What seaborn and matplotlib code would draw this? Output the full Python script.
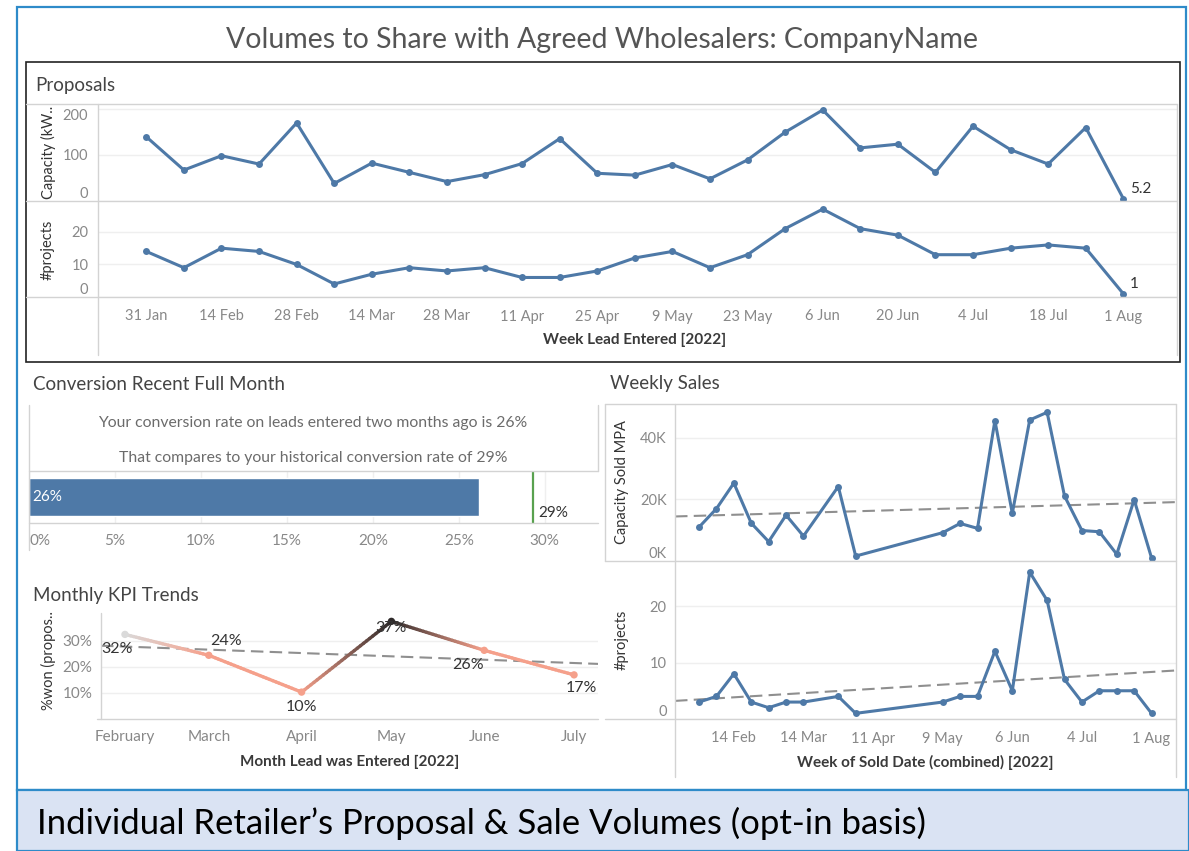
import matplotlib
matplotlib.use('Agg')
import matplotlib.pyplot as plt
import matplotlib.dates as mdates
from matplotlib.lines import Line2D
from matplotlib.patches import Rectangle
from matplotlib.collections import LineCollection
from matplotlib.colors import LinearSegmentedColormap, Normalize
import seaborn as sns
import numpy as np
import pandas as pd

W, H = 1189, 851

# ---- proposals (week lead entered) ----
proposal_weeks = ['2022-01-31', '2022-02-07', '2022-02-14', '2022-02-21', '2022-02-28', '2022-03-07',
                  '2022-03-14', '2022-03-21', '2022-03-28', '2022-04-04', '2022-04-11', '2022-04-18',
                  '2022-04-25', '2022-05-02', '2022-05-09', '2022-05-16', '2022-05-23', '2022-05-30',
                  '2022-06-06', '2022-06-13', '2022-06-20', '2022-06-27', '2022-07-04', '2022-07-11',
                  '2022-07-18', '2022-07-25', '2022-08-01']
proposal_capacity = [139, 67, 98, 80, 169, 38, 82, 62, 42, 57, 81, 135, 60, 56, 79, 48, 89, 149,
                     197, 115, 123, 62, 162, 111, 80, 159, 5.2]
proposal_projects = [14, 9, 15, 14, 10, 4, 7, 9, 8, 9, 6, 6, 8, 12, 14, 9, 13, 21, 27, 21, 19, 13,
                     13, 15, 16, 15, 1]

# ---- conversion ----
recent_conversion = 26.15
historical_conversion = 29.3
conversion_ticks = [0, 5, 10, 15, 20, 25, 30]

# ---- monthly KPI ----
kpi_months = ['2022-02-01', '2022-03-01', '2022-04-01', '2022-05-01', '2022-06-01', '2022-07-01']
kpi_won_pct = [32.4, 24.4, 10.3, 37.4, 26.3, 16.9]
kpi_shade = [0, 1, 1, 2, 1, 1]

# ---- weekly sales ----
sales_weeks = ['2022-01-31', '2022-02-07', '2022-02-14', '2022-02-21', '2022-02-28', '2022-03-07',
               '2022-03-14', '2022-03-28', '2022-04-04', '2022-05-09', '2022-05-16', '2022-05-23',
               '2022-05-30', '2022-06-06', '2022-06-13', '2022-06-20', '2022-06-27', '2022-07-04',
               '2022-07-11', '2022-07-18', '2022-07-25', '2022-08-01']
sales_capacity = [11000, 17000, 25300, 12300, 6300, 14900, 8100, 24200, 1600, 9200, 12200, 10600,
                  45600, 15500, 45800, 48300, 21100, 9900, 9500, 2200, 19900, 1000]
sales_projects = [3, 4, 8, 3, 2, 3, 3, 4, 1, 3, 4, 4, 12, 5, 26, 21, 7, 3, 5, 5, 5, 1]
sales_tick_weeks = ['2022-02-14', '2022-03-14', '2022-04-11', '2022-05-09', '2022-06-06',
                    '2022-07-04', '2022-08-01']

BLUE = '#4e79a7'
TEXT = '#333333'
TICK = '#888888'
GRID = '#efefef'
DIVIDER = '#d3d3d3'
FRAME_BLUE = '#2e8bc9'
TREND = '#8f8f8f'

sns.set_style('white')
plt.rcParams['font.family'] = ['Lato', 'DejaVu Sans']


def px_axes(fig, x0, y0, x1, y1):
    return fig.add_axes([x0 / W, 1 - y1 / H, (x1 - x0) / W, (y1 - y0) / H])


def px_line(fig, xs, ys, color=DIVIDER, lw=1.0):
    fig.add_artist(Line2D([x / W for x in xs], [1 - y / H for y in ys],
                          transform=fig.transFigure, color=color, lw=lw))


def px_rect(fig, x0, y0, x1, y1, **kw):
    fig.add_artist(Rectangle((x0 / W, 1 - y1 / H), (x1 - x0) / W, (y1 - y0) / H,
                             transform=fig.transFigure, **kw))


def px_text(fig, x, y, s, **kw):
    kw.setdefault('ha', 'center')
    kw.setdefault('va', 'center')
    fig.text(x / W, 1 - y / H, s, **kw)


def tableau_axes(ax, ypad=5):
    for s in ax.spines.values():
        s.set_visible(False)
    ax.set_xlabel('')
    ax.set_ylabel('')
    ax.tick_params(axis='both', which='both', labelcolor=TICK, labelsize=10.5, length=0)
    ax.tick_params(axis='y', pad=ypad)
    ax.set_axisbelow(True)


def y_edge_align(ax):
    ticks = ax.yaxis.get_major_ticks()
    ticks[0].label1.set_va('bottom')


def week_minor(ax, xlim):
    ax.xaxis.set_minor_locator(mdates.WeekdayLocator(byweekday=mdates.MO))
    ax.tick_params(axis='x', which='minor', length=4, color='#d6d6d6', direction='out')
    ax.set_xlim(xlim)


def trend_line(ax, dates, values, xlim):
    x = mdates.date2num(dates)
    k, b = np.polyfit(x, values, 1)
    xe = mdates.date2num(pd.to_datetime(list(xlim)))
    ax.plot(xe, k * xe + b, color=TREND, lw=1.5, ls=(0, (6, 3)), zorder=2)


def proposals_panel(fig):
    weeks = pd.to_datetime(proposal_weeks)
    xlim = (pd.Timestamp('2022-01-22'), pd.Timestamp('2022-08-11'))

    px_rect(fig, 26, 62, 1180, 362, fill=False, edgecolor='#222222', lw=1.2)
    px_text(fig, 35, 85, 'Proposals', ha='left', fontsize=13.5, color='#444444')

    ax1 = px_axes(fig, 98, 104, 1177, 201)
    ax2 = px_axes(fig, 98, 201, 1177, 297)
    sns.lineplot(x=weeks, y=proposal_capacity, ax=ax1, color=BLUE, lw=2.2, marker='o',
                 markersize=5, markeredgewidth=0)
    sns.lineplot(x=weeks, y=proposal_projects, ax=ax2, color=BLUE, lw=2.2, marker='o',
                 markersize=5, markeredgewidth=0)

    for ax in (ax1, ax2):
        tableau_axes(ax, ypad=7)
        ax.yaxis.grid(True, color=GRID, lw=1)
        week_minor(ax, xlim)
    ax1.set_ylim(0, 210)
    ax1.set_yticks([0, 100, 200])
    ax1.set_xticks([])
    ax1.tick_params(axis='x', which='minor', length=0)
    ax1.yaxis.get_major_ticks()[-1].label1.set_va('top')
    y_edge_align(ax1)
    ax2.set_ylim(0, 29.5)
    ax2.set_yticks([0, 10, 20])
    y_edge_align(ax2)
    ax2.set_xticks(weeks[::2])
    ax2.xaxis.set_major_formatter(mdates.DateFormatter('%-d %b'))
    ax2.tick_params(axis='x', which='major', pad=9)

    ax1.annotate(f'{proposal_capacity[-1]:g}', (weeks[-1], proposal_capacity[-1]), xytext=(5, 2),
                 textcoords='offset points', fontsize=11, color=TEXT, va='bottom')
    ax2.annotate(f'{proposal_projects[-1]:g}', (weeks[-1], proposal_projects[-1]), xytext=(5, 2),
                 textcoords='offset points', fontsize=11, color=TEXT, va='bottom')

    px_text(fig, 48, 152, 'Capacity (kW..', rotation=90, fontsize=10.5, color=TEXT)
    px_text(fig, 48, 250, '#projects', rotation=90, fontsize=10.5, color=TEXT)
    px_text(fig, 635, 340, 'Week Lead Entered [2022]', fontsize=11, color='#3a3a3a', fontweight='bold')

    for y in (104, 201, 297):
        px_line(fig, [26, 1177], [y, y])
    px_line(fig, [98, 98], [104, 355])
    px_line(fig, [1177, 1177], [104, 355])


def conversion_panel(fig):
    px_text(fig, 33, 385, 'Conversion Recent Full Month', ha='left', fontsize=13.5, color='#444444')
    px_text(fig, 313, 423, f'Your conversion rate on leads entered two months ago is {recent_conversion:.0f}%',
            fontsize=11.3, color='#6b6b6b')
    px_text(fig, 313, 458, f'That compares to your historical conversion rate of {historical_conversion:.0f}%',
            fontsize=11.3, color='#6b6b6b')

    ax = px_axes(fig, 29, 471, 598, 523)
    sns.barplot(x=[recent_conversion], y=['recent'], orient='h', color=BLUE, width=0.73,
                saturation=1, ax=ax)
    tableau_axes(ax)
    ax.set_xlim(0, 33.1)
    ax.set_ylim(0.5, -0.5)
    ax.set_yticks([])
    ax.set_xticks(conversion_ticks)
    ax.set_xticklabels([f'{t}%' for t in conversion_ticks])
    ax.tick_params(axis='x', pad=8, labelsize=11)
    ax.xaxis.get_major_ticks()[0].label1.set_ha('left')
    ax.xaxis.grid(True, color=GRID, lw=1)
    ax.axvline(historical_conversion, color='#59a14f', lw=1.6)
    ax.text(0.2, 0, f'{recent_conversion:.0f}%', color='white', fontsize=11, va='center', ha='left')
    ax.annotate(f'{historical_conversion:.0f}%', (historical_conversion, 0.2),
                xycoords=('data', 'axes fraction'), xytext=(4, 0), textcoords='offset points',
                fontsize=11, color=TEXT, va='center', ha='left')

    px_line(fig, [29, 29], [405, 550])
    px_line(fig, [598, 598], [405, 471])
    for y in (471, 523):
        px_line(fig, [29, 598], [y, y])


def kpi_panel(fig):
    months = pd.to_datetime(kpi_months)
    xlim = (pd.Timestamp('2022-01-24'), pd.Timestamp('2022-07-09'))
    px_text(fig, 33, 595, 'Monthly KPI Trends', ha='left', fontsize=13.5, color='#444444')

    ax = px_axes(fig, 101, 613, 598, 719)
    cmap = LinearSegmentedColormap.from_list('kpi', ['#dadada', '#f6a08b', '#2f2a2a'])
    norm = Normalize(0, 2)
    sns.scatterplot(x=months, y=kpi_won_pct, ax=ax, s=28, linewidth=0, zorder=4,
                    c=cmap(norm(np.array(kpi_shade, float))))

    # colour-graded line between months
    xs = mdates.date2num(months)
    ys = np.array(kpi_won_pct)
    cs = np.array(kpi_shade, float)
    segs, cols = [], []
    t = np.linspace(0, 1, 30)
    for i in range(len(xs) - 1):
        px = xs[i] + t * (xs[i + 1] - xs[i])
        py = ys[i] + t * (ys[i + 1] - ys[i])
        pc = cs[i] + t * (cs[i + 1] - cs[i])
        pts = np.column_stack([px, py])
        segs.extend(np.stack([pts[:-1], pts[1:]], axis=1))
        cols.extend(cmap(norm((pc[:-1] + pc[1:]) / 2)))
    ax.add_collection(LineCollection(segs, colors=cols, lw=2.4, zorder=3, capstyle='round'))

    trend_line(ax, months, kpi_won_pct, xlim)

    tableau_axes(ax, ypad=6)
    ax.yaxis.grid(True, color=GRID, lw=1)
    ax.set_ylim(0, 40.6)
    ax.set_yticks([10, 20, 30])
    ax.set_yticklabels(['10%', '20%', '30%'])
    ax.set_xticks(months)
    ax.xaxis.set_major_formatter(mdates.DateFormatter('%B'))
    ax.tick_params(axis='both', which='major', labelsize=11)
    ax.tick_params(axis='x', which='major', pad=8)
    week_minor(ax, xlim)

    offsets = [(-8, -14), (17, 14), (0, -14), (0, -6), (-16, -14), (7, -13)]
    for m, v, (dx, dy) in zip(months, kpi_won_pct, offsets):
        ax.annotate(f'{v:.0f}%', (m, v), xytext=(dx * 0.75, dy * 0.75), textcoords='offset points',
                    fontsize=11.5, color=TEXT, ha='center', va='center', zorder=5)

    px_text(fig, 48, 660, '%won (propos..', rotation=90, fontsize=10.5, color=TEXT)
    px_text(fig, 350, 762, 'Month Lead was Entered [2022]', fontsize=11, color='#3a3a3a', fontweight='bold')
    px_line(fig, [101, 101], [613, 719])
    px_line(fig, [97, 598], [719, 719])


def sales_panel(fig):
    weeks = pd.to_datetime(sales_weeks)
    xlim = (pd.Timestamp('2022-01-21 08:00'), pd.Timestamp('2022-08-10 20:00'))
    px_text(fig, 610, 384, 'Weekly Sales', ha='left', fontsize=13.5, color='#444444')

    ax1 = px_axes(fig, 675, 404, 1176, 561)
    ax2 = px_axes(fig, 675, 562, 1176, 719)
    sns.lineplot(x=weeks, y=sales_capacity, ax=ax1, color=BLUE, lw=2.2, marker='o',
                 markersize=5, markeredgewidth=0, zorder=3)
    sns.lineplot(x=weeks, y=sales_projects, ax=ax2, color=BLUE, lw=2.2, marker='o',
                 markersize=5, markeredgewidth=0, zorder=3)
    trend_line(ax1, weeks, sales_capacity, xlim)
    trend_line(ax2, weeks, sales_projects, xlim)

    for ax in (ax1, ax2):
        tableau_axes(ax, ypad=6)
        ax.yaxis.grid(True, color=GRID, lw=1)
        week_minor(ax, xlim)
    ax1.set_ylim(0, 51000)
    ax1.set_yticks([0, 20000, 40000])
    ax1.set_yticklabels(['0K', '20K', '40K'])
    y_edge_align(ax1)
    ax1.set_xticks([])
    ax1.tick_params(axis='x', which='minor', length=0)
    ax2.set_ylim(0, 27.8)
    ax2.set_yticks([0, 10, 20])
    y_edge_align(ax2)
    ax2.set_xticks(pd.to_datetime(sales_tick_weeks))
    ax2.xaxis.set_major_formatter(mdates.DateFormatter('%-d %b'))
    ax2.tick_params(axis='x', which='major', pad=9)

    px_text(fig, 622, 482, 'Capacity Sold MPA', rotation=90, fontsize=10.5, color=TEXT)
    px_text(fig, 622, 640, '#projects', rotation=90, fontsize=10.5, color=TEXT)
    px_text(fig, 925, 762, 'Week of Sold Date (combined) [2022]', fontsize=11, color='#3a3a3a',
            fontweight='bold')

    for y in (404, 561, 719):
        px_line(fig, [605, 1176], [y, y])
    px_line(fig, [605, 605], [404, 561])
    px_line(fig, [675, 675], [404, 777])
    px_line(fig, [1176, 1176], [404, 777])


fig = plt.figure(figsize=(W / 100, H / 100), dpi=100)
fig.patch.set_facecolor('white')

px_rect(fig, 17, 7, 1186, 790, fill=False, edgecolor=FRAME_BLUE, lw=1.6)
px_text(fig, 602, 40, 'Volumes to Share with Agreed Wholesalers: CompanyName', fontsize=20.5,
        color='#555555')

proposals_panel(fig)
conversion_panel(fig)
kpi_panel(fig)
sales_panel(fig)

px_rect(fig, 17, 790, 1189, 851, facecolor='#dae3f3', edgecolor=FRAME_BLUE, lw=1.6)
px_text(fig, 37, 823, 'Individual Retailer\u2019s Proposal & Sale Volumes (opt-in basis)', ha='left',
        fontsize=25, color='black')

fig.savefig('out.png', dpi=100)
